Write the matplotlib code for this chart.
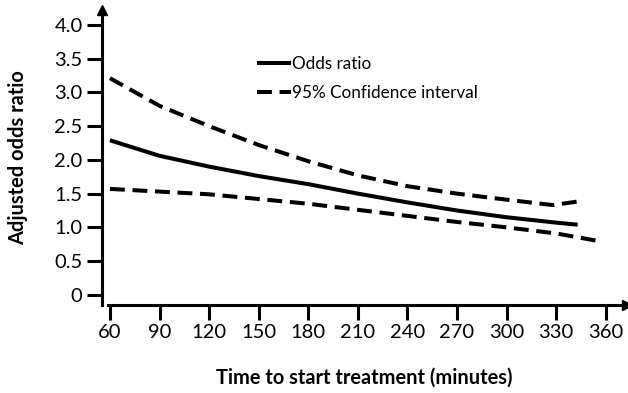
import matplotlib
matplotlib.use("Agg")
import matplotlib.pyplot as plt

# Data
or_x = [60, 90, 120, 150, 180, 210, 240, 270, 300, 330, 343]
or_y = [2.29, 2.06, 1.90, 1.76, 1.64, 1.50, 1.37, 1.25, 1.15, 1.07, 1.04]

upper_x = [60, 90, 120, 150, 180, 210, 240, 270, 300, 328, 345]
upper_y = [3.21, 2.80, 2.50, 2.22, 1.98, 1.77, 1.61, 1.50, 1.41, 1.33, 1.39]

lower_x = [60, 90, 120, 150, 180, 210, 240, 270, 300, 330, 355]
lower_y = [1.57, 1.53, 1.49, 1.42, 1.35, 1.26, 1.17, 1.08, 1.00, 0.91, 0.80]

x_ticks = [60, 90, 120, 150, 180, 210, 240, 270, 300, 330, 360]
y_ticks = [0, 0.5, 1.0, 1.5, 2.0, 2.5, 3.0, 3.5, 4.0]
y_tick_labels = ["0", "0.5", "1.0", "1.5", "2.0", "2.5", "3.0", "3.5", "4.0"]

plt.rcParams['font.family'] = ['Lato', 'DejaVu Sans']

fig = plt.figure(figsize=(6.28, 3.93), dpi=100)
ax = fig.add_axes([0.1624, 0.2239, 0.8356, 0.7507])

lw = 2.9
ax.plot(or_x, or_y, color='black', lw=lw, solid_capstyle='butt', label='Odds ratio')
ax.plot(upper_x, upper_y, color='black', lw=lw, dashes=(3.7, 1.9), dash_capstyle='butt',
        label='95% Confidence interval')
ax.plot(lower_x, lower_y, color='black', lw=lw, dashes=(3.7, 1.9), dash_capstyle='butt')

ax.set_xlim(55.2, 372.7)
ax.set_ylim(-0.15, 4.22)

for s in ['top', 'right']:
    ax.spines[s].set_visible(False)
ax.spines['left'].set_linewidth(2.2)
ax.spines['bottom'].set_linewidth(2.2)
ax.spines['bottom'].set_bounds(58.8, 370)

ax.set_xticks(x_ticks)
ax.set_yticks(y_ticks)
ax.set_yticklabels(y_tick_labels)
ax.tick_params(axis='both', direction='out', length=10.5, width=2.2, pad=3.5,
               labelsize=14.5, color='black')

# arrow heads
ax.plot(1, 0, marker='>', color='black', markersize=7, transform=ax.transAxes, clip_on=False)
ax.plot(0, 1, marker='^', color='black', markersize=7, transform=ax.transAxes, clip_on=False)

ax.set_xlabel('Time to start treatment (minutes)', fontsize=14.4, fontweight='bold', labelpad=19)
ax.set_ylabel('Adjusted odds ratio', fontsize=14.4, fontweight='bold', labelpad=19)

leg = ax.legend(loc='upper left', bbox_to_anchor=(0.295, 0.845), frameon=False,
                fontsize=12.3, handlelength=2.0, handletextpad=0.05, labelspacing=0.75,
                borderaxespad=0, borderpad=0)

fig.savefig('out.png', dpi=100)
